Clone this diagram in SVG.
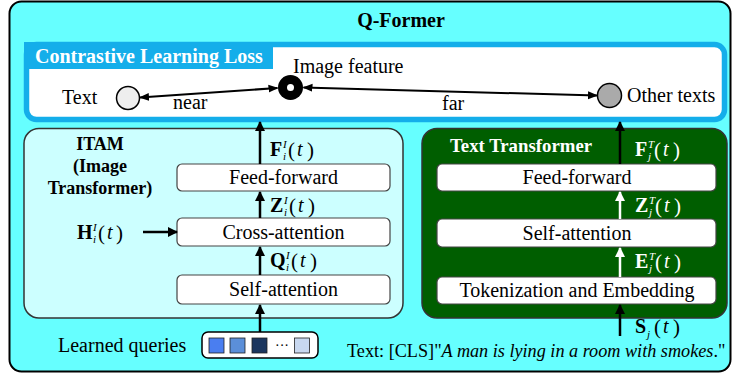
<svg xmlns="http://www.w3.org/2000/svg" width="737" height="379" viewBox="0 0 737 379">
  <style>
    text { font-family: "Liberation Serif", "Times New Roman", serif; fill: #000; }
    .t20 { font-size: 20px; }
    .t18 { font-size: 18.2px; }
    .b { font-weight: bold; }
    .w { fill: #fff; }
    .mid { text-anchor: middle; }
    .blk { stroke: #000; stroke-width: 2.5; fill: none; }
    .wht { stroke: #fff; stroke-width: 2.5; fill: none; }
    .thin { stroke: #000; stroke-width: 2; fill: none; }
    .layer { fill: #fff; stroke: #444; stroke-width: 1.2; }
    .m { font-size: 20px; font-weight: bold; }
    .sc { font-size: 11px; font-style: italic; }
    .p { font-size: 21px; }
    .it { font-size: 20px; font-style: italic; }
  </style>
  <defs>
    <marker id="ah" viewBox="0 0 10 10" refX="9" refY="5" markerWidth="4" markerHeight="4" orient="auto-start-reverse">
      <path d="M0,0 L10,5 L0,10 z" fill="#000"/>
    </marker>
    <marker id="ahw" viewBox="0 0 10 10" refX="9" refY="5" markerWidth="4" markerHeight="4" orient="auto-start-reverse">
      <path d="M0,0 L10,5 L0,10 z" fill="#fff"/>
    </marker>
    <marker id="ahs" viewBox="0 0 10 10" refX="9" refY="5" markerWidth="5" markerHeight="5" orient="auto-start-reverse">
      <path d="M0,1 L10,5 L0,9 z" fill="#000"/>
    </marker>
  </defs>

  <!-- Q-Former frame -->
  <g id="qformer">
    <rect x="9.5" y="1.5" width="721" height="370" rx="12" fill="#66ffff" stroke="#000" stroke-width="2"/>
    <text x="401" y="27" class="b mid" font-size="20">Q-Former</text>
  </g>

  <!-- contrastive loss panel -->
  <g id="contrastive">
    <rect x="26.5" y="44.5" width="698" height="75" rx="10" fill="#fff" stroke="#14aeea" stroke-width="5.5"/>
    <path d="M24,42 H273 V69 H24 z" fill="#14aeea"/>
    <text x="35" y="63" class="b w" font-size="20">Contrastive Learning Loss</text>
  </g>

  <g id="text-node">
    <circle cx="128" cy="98" r="11.5" fill="#eeeeee" stroke="#000" stroke-width="1.5"/>
    <text x="62" y="104" class="t20">Text</text>
  </g>
  <g id="image-feature">
    <circle cx="290.5" cy="87.5" r="12.5" fill="#000"/>
    <circle cx="290.5" cy="87.5" r="3.5" fill="#fff"/>
    <text x="293" y="73" class="t20">Image feature</text>
  </g>
  <g id="other-texts">
    <circle cx="609.5" cy="95.5" r="12" fill="#aaaaaa" stroke="#000" stroke-width="1.5"/>
    <text x="627" y="102" class="t20">Other texts</text>
  </g>

  <!-- ITAM -->
  <g id="itam">
    <rect x="24" y="128.5" width="379" height="189.5" rx="15" fill="#ccffff" stroke="#333" stroke-width="1.5"/>
    <text x="100" y="150" class="b mid" font-size="18">ITAM</text>
    <text x="100" y="172" class="b mid" font-size="18">(Image</text>
    <text x="100" y="194" class="b mid" font-size="18">Transformer)</text>
  </g>
  <g id="itam-ff">
    <rect x="177" y="164" width="213" height="27" rx="5" class="layer"/>
    <text x="283.5" y="184" class="t20 mid">Feed-forward</text>
  </g>
  <g id="itam-ca">
    <rect x="177" y="218" width="213" height="28" rx="5" class="layer"/>
    <text x="283.5" y="239" class="t20 mid">Cross-attention</text>
  </g>
  <g id="itam-sa">
    <rect x="177" y="275" width="213" height="29" rx="5" class="layer"/>
    <text x="283.5" y="296" class="t20 mid">Self-attention</text>
  </g>

  <!-- Text Transformer -->
  <g id="text-transformer">
    <rect x="422" y="128.5" width="305" height="189.5" rx="15" fill="#005e00" stroke="#333" stroke-width="1.5"/>
    <text x="450" y="152" class="b w" font-size="18.8">Text Transformer</text>
  </g>
  <g id="tt-ff">
    <rect x="437" y="164" width="279" height="27" rx="5" class="layer"/>
    <text x="577" y="184" class="t20 mid">Feed-forward</text>
  </g>
  <g id="tt-sa">
    <rect x="437" y="219" width="279" height="28" rx="5" class="layer"/>
    <text x="577" y="240" class="t20 mid">Self-attention</text>
  </g>
  <g id="tt-tok">
    <rect x="437" y="277" width="279" height="27" rx="5" class="layer"/>
    <text x="577" y="297" class="t20 mid">Tokenization and Embedding</text>
  </g>

  <!-- learned queries -->
  <g id="learned-queries">
    <text x="58" y="352" class="t20">Learned queries</text>
    <rect x="202" y="332" width="116" height="26" rx="6" fill="#fff" stroke="#000" stroke-width="1.5"/>
    <rect x="209" y="338" width="15" height="15" fill="#4a7ef0" stroke="#222" stroke-width="0.8"/>
    <rect x="230" y="338" width="15" height="15" fill="#5b8fd9" stroke="#222" stroke-width="0.8"/>
    <rect x="252" y="338" width="15" height="15" fill="#1b365f" stroke="#222" stroke-width="0.8"/>
    <text x="282" y="350" class="mid" font-size="14">···</text>
    <rect x="294.5" y="338" width="15" height="15" fill="#c8d8f0" stroke="#222" stroke-width="0.8"/>
  </g>

  <g id="caption">
    <text x="347" y="357" class="t18">Text: [CLS]"<tspan font-style="italic">A man is lying in a room with smokes</tspan>."</text>
  </g>

  <!-- connectors -->
  <g id="connectors">
    <line x1="140" y1="97.5" x2="277.5" y2="88" class="thin" marker-start="url(#ahs)" marker-end="url(#ahs)"/>
    <line x1="303.5" y1="87.5" x2="597" y2="95.5" class="thin" marker-start="url(#ahs)" marker-end="url(#ahs)"/>

    <line x1="260" y1="164" x2="260" y2="122" class="blk" marker-end="url(#ah)"/>
    <line x1="260" y1="218" x2="260" y2="192" class="blk" marker-end="url(#ah)"/>
    <line x1="260" y1="275" x2="260" y2="247" class="blk" marker-end="url(#ah)"/>
    <line x1="260" y1="332" x2="260" y2="305" class="blk" marker-end="url(#ah)"/>
    <line x1="143" y1="232" x2="177" y2="232" class="blk" marker-end="url(#ah)"/>

    <line x1="620" y1="164" x2="620" y2="122" class="blk" marker-end="url(#ah)"/>
    <line x1="620" y1="219" x2="620" y2="192" class="wht" marker-end="url(#ahw)"/>
    <line x1="620" y1="277" x2="620" y2="248" class="wht" marker-end="url(#ahw)"/>
    <line x1="620" y1="336" x2="620" y2="305" class="blk" marker-end="url(#ah)"/>
  </g>

  <!-- connector labels -->
  <g id="edge-labels">
    <text x="173" y="109" class="t20">near</text>
    <text x="442" y="110" class="t20">far</text>

    <g id="lbl-F-I">
      <text x="270" y="156" class="m">F</text>
      <text x="283" y="148" class="sc">I</text>
      <text x="283" y="160" class="sc">i</text>
      <text x="288" y="157" class="p">(</text>
      <text x="297" y="156" class="it">t</text>
      <text x="307" y="157" class="p">)</text>
    </g>
    <g id="lbl-Z-I">
      <text x="270" y="212" class="m">Z</text>
      <text x="284" y="204" class="sc">I</text>
      <text x="284" y="216" class="sc">i</text>
      <text x="289" y="213" class="p">(</text>
      <text x="298" y="212" class="it">t</text>
      <text x="308" y="213" class="p">)</text>
    </g>
    <g id="lbl-Q-I">
      <text x="270" y="267" class="m">Q</text>
      <text x="286" y="259" class="sc">I</text>
      <text x="286" y="271" class="sc">i</text>
      <text x="291" y="268" class="p">(</text>
      <text x="300" y="267" class="it">t</text>
      <text x="310" y="268" class="p">)</text>
    </g>
    <g id="lbl-H-I">
      <text x="77" y="239" class="m">H</text>
      <text x="93" y="231" class="sc">I</text>
      <text x="93" y="243" class="sc">i</text>
      <text x="98" y="240" class="p">(</text>
      <text x="107" y="239" class="it">t</text>
      <text x="116" y="240" class="p">)</text>
    </g>
    <g id="lbl-F-T">
      <text x="635" y="156" class="m w">F</text>
      <text x="648" y="148" class="sc w">T</text>
      <text x="648" y="160" class="sc w">j</text>
      <text x="654" y="157" class="p w">(</text>
      <text x="663" y="156" class="it w">t</text>
      <text x="673" y="157" class="p w">)</text>
    </g>
    <g id="lbl-Z-T">
      <text x="635" y="212" class="m w">Z</text>
      <text x="649" y="204" class="sc w">T</text>
      <text x="649" y="216" class="sc w">j</text>
      <text x="655" y="213" class="p w">(</text>
      <text x="664" y="212" class="it w">t</text>
      <text x="674" y="213" class="p w">)</text>
    </g>
    <g id="lbl-E-T">
      <text x="635" y="268" class="m w">E</text>
      <text x="649" y="260" class="sc w">T</text>
      <text x="649" y="272" class="sc w">j</text>
      <text x="655" y="269" class="p w">(</text>
      <text x="664" y="268" class="it w">t</text>
      <text x="674" y="269" class="p w">)</text>
    </g>
    <g id="lbl-S">
      <text x="635" y="333" class="m">S</text>
      <text x="647" y="338" class="sc">j</text>
      <text x="654" y="334" class="p">(</text>
      <text x="663" y="333" class="it">t</text>
      <text x="673" y="334" class="p">)</text>
    </g>
  </g>
</svg>
